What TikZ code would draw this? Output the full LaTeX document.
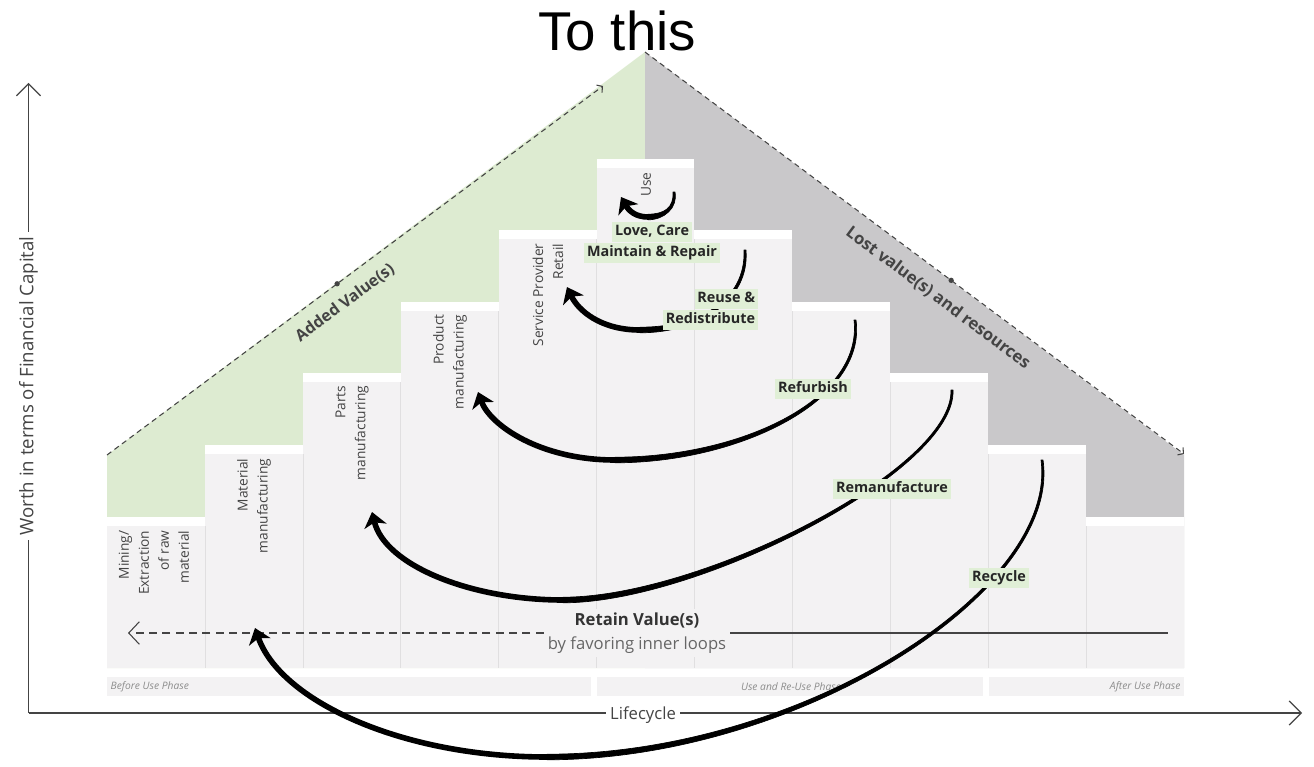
\documentclass[tikz,border=0pt]{standalone}
\usepackage{fontspec}
\setmainfont{Open Sans}
\newfontfamily\titlefont{Liberation Sans}
\usetikzlibrary{arrows.meta,calc}
\definecolor{AddGreen}{HTML}{DDEBD1}
\definecolor{LostGray}{HTML}{C9C8CA}
\definecolor{StepGray}{HTML}{F3F2F3}
\definecolor{EdgeGray}{HTML}{E0DFE0}
\definecolor{TagGreen}{HTML}{E0EFD6}
\definecolor{InkGray}{HTML}{444444}
\newcommand{\fsz}[2]{\fontsize{#1pt}{#2pt}\selectfont}
% loop: start, control, control, bottom, control, control, end
\newcommand{\valueloop}[7]{%
  \filldraw[line width=0.5pt, line join=round] ($(#1)+(1,0)$) .. controls ($(#2)+(2,0)$) and ($(#3)+(0,2.8)$) .. ($(#4)+(0,2.8)$)
    -- ($(#4)+(0,-2.8)$) .. controls ($(#3)+(0,-2.8)$) and ($(#2)+(-2,0)$) .. ($(#1)+(-1,0)$) -- cycle;
  \draw[looparrow] (#4) .. controls (#5) and (#6) .. (#7);}

\begin{document}
\begin{tikzpicture}[x=0.75pt, y=-0.75pt,
    stagelabel/.style={rotate=90, anchor=east, align=right, text=InkGray, inner sep=1pt, font=\fsz{10.3}{15}},
    looptag/.style={fill=TagGreen, inner sep=2pt, text height=8pt, text depth=2.6pt, text=black!85, font=\bfseries\fsz{10.8}{12}},
    looparrow/.style={line width=4.2pt, -{Stealth[length=11pt, width=17pt, inset=3pt]}},
    valueline/.style={InkGray, line width=0.8pt, dash pattern=on 4pt off 3pt, -{Straight Barb[length=3pt, width=7pt]}},
    axisline/.style={InkGray, line width=0.9pt, -{Straight Barb[length=9pt, width=18pt]}},
    phasetext/.style={text=black!45, inner sep=1pt, font=\itshape\fsz{7.7}{9}}]
  \useasboundingbox (0,0) rectangle (1314,767);
  % Value triangle
  \fill[AddGreen] (645,52) -- (107,455) -- (107,668) -- (645,668) -- cycle;
  \fill[LostGray] (645,52) -- (1184,455) -- (1184,668) -- (645,668) -- cycle;
  % Steps
  \foreach \i/\t in {0/517,1/445,2/373,3/302,4/230,5/159,6/230,7/302,8/373,9/445,10/517}{
    \fill[white] (107+97.9*\i,\t) rectangle (204.9+97.9*\i,\t+9);
    \fill[StepGray] (107+97.9*\i,\t+9) rectangle (204.9+97.9*\i,668);
  }
  \foreach \i/\t in {1/517,2/445,3/373,4/302,5/230,6/230,7/302,8/373,9/445,10/517}
    \draw[EdgeGray] (107+97.9*\i,\t+9) -- (107+97.9*\i,668);
  % Stage labels
  \node[stagelabel] (mining) at (154,529) {Mining/\\Extraction\\of raw\\material};
  \node[stagelabel] (material) at (254,457) {Material\\manufacturing};
  \node[stagelabel] (parts) at (352,384) {Parts\\manufacturing};
  \node[stagelabel] (product) at (450,313) {Product\\manufacturing};
  \node[stagelabel] (retail) at (548,242) {Service Provider\\Retail};
  \node[stagelabel] (use) at (646,171) {Use};
  % Retain line
  \node[fill=StepGray, align=center, inner sep=3pt, text=black!60, font=\fsz{12.5}{18}] (retain) at (637,633)
    {\textcolor{black!80}{\textbf{Retain Value(s)}}\\by favoring inner loops};
  \coordinate (retainL) at (128,633);
  \coordinate (retainR) at (1168,633);
  \draw[InkGray, line width=0.8pt, dash pattern=on 6pt off 4pt, -{Straight Barb[length=8pt, width=17pt]}] (retain) -- (retainL);
  \draw[InkGray, line width=0.8pt] (retain) -- (retainR);
  % Phases
  \fill[StepGray] (107,677) rectangle (591,696);
  \fill[StepGray] (597,677) rectangle (983,696);
  \fill[StepGray] (989,677) rectangle (1184,696);
  \node[phasetext, anchor=west] (before) at (109,687) {Before Use Phase};
  \node[phasetext] (during) at (791,687) {Use and Re-Use Phase};
  \node[phasetext, anchor=east] (after) at (1182,687) {After Use Phase};
  % Axes
  \coordinate (origin) at (28.5,713);
  \coordinate (ytop) at (28.5,83);
  \coordinate (xend) at (1302,713);
  \draw[axisline] (origin) -- (ytop);
  \draw[axisline] (origin) -- (xend);
  \node[fill=white, rotate=90, text=InkGray, font=\fsz{14}{16}] (worth) at (28.5,386) {Worth in terms of Financial Capital};
  \node[fill=white, text=InkGray, font=\fsz{12.5}{14}] (life) at (643,715) {Lifecycle};
  % Value lines
  \coordinate (addS) at (107,455);
  \coordinate (addE) at (603,86);
  \coordinate (lostS) at (645,52);
  \coordinate (lostE) at (1184,454);
  \draw[valueline] (addS) -- (addE);
  \draw[valueline] (lostS) -- (lostE);
  \path (addS) -- (addE) coordinate[pos=0.464] (addDot);
  \path (lostS) -- (lostE) coordinate[pos=0.568] (lostDot);
  \fill[InkGray] (addDot) circle (2pt) (lostDot) circle (2pt);
  \node[rotate=36.6, text=InkGray, font=\bfseries\fsz{12}{14}] (added) at (345,303) {Added Value(s)};
  \node[rotate=-36.8, text=InkGray, font=\bfseries\fsz{12.5}{14}] (lost) at (938,298) {Lost value(s) and resources};
  % Loops
  \coordinate (useS) at (674,192);
  \coordinate (useB) at (648,217);
  \coordinate (useE) at (621,197);
  \coordinate (reuseS) at (745,250);
  \coordinate (reuseB) at (640,330);
  \coordinate (reuseE) at (567,287);
  \coordinate (refurbS) at (855,320);
  \coordinate (refurbB) at (615,460);
  \coordinate (refurbE) at (478,392);
  \coordinate (remanS) at (952,390);
  \coordinate (remanB) at (563,600);
  \coordinate (remanE) at (372,512);
  \coordinate (recycleS) at (1042,460);
  \coordinate (recycleB) at (547,757);
  \coordinate (recycleE) at (255,628);
  \valueloop{useS}{676,208}{664,217}{useB}{636,217}{629,211}{useE}
  \valueloop{reuseS}{748,300}{700,330}{reuseB}{600,330}{578,310}{reuseE}
  \valueloop{refurbS}{865,400}{740,460}{refurbB}{540,460}{490,425}{refurbE}
  \valueloop{remanS}{955,470}{700,600}{remanB}{470,600}{385,565}{remanE}
  \valueloop{recycleS}{1060,590}{800,757}{recycleB}{400,757}{280,700}{recycleE}
  % Loop tags
  \node[looptag] (love) at (652,232) {Love, Care};
  \node[looptag] (repair) at (652,253) {Maintain \& Repair};
  \node[looptag, anchor=east] (reuse) at (758,299) {Reuse \&};
  \node[looptag, anchor=east] (redist) at (758,320) {Redistribute};
  \node[looptag] (refurb) at (813,389) {Refurbish};
  \node[looptag] (reman) at (892,489) {Remanufacture};
  \node[looptag] (recycle) at (999,578) {Recycle};
  % Title
  \node[font=\titlefont\fsz{41}{48}] (title) at (617,31) {To this};
\end{tikzpicture}
\end{document}
